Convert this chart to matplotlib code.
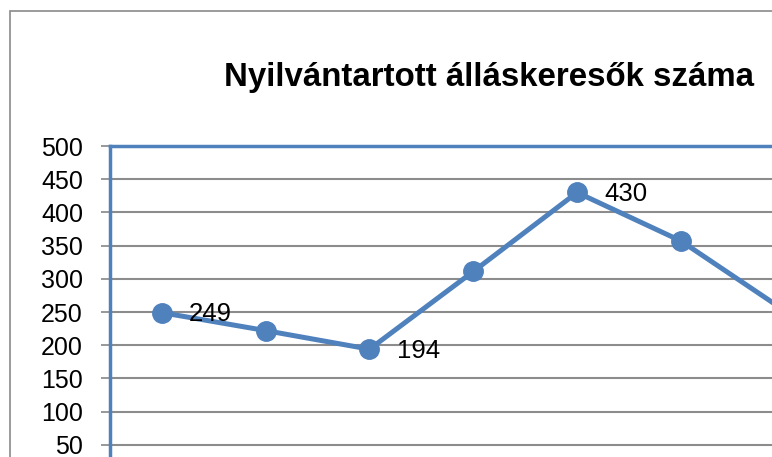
import matplotlib
matplotlib.use("Agg")
import matplotlib.pyplot as plt
from matplotlib.patches import Rectangle

plt.rcParams['font.family'] = ['Liberation Sans', 'DejaVu Sans']

# havi adatok (a kép jobb szélén túl levágva)
months = ['1', '2', '3', '4', '5', '6', '7']
values = [249, 222, 194, 311, 430, 357, 252]
labeled = [0, 2, 4]
yticks = [50, 100, 150, 200, 250, 300, 350, 400, 450, 500]
title = 'Nyilvántartott álláskeresők száma'

W, H = 772, 457
fig = plt.figure(figsize=(W / 100, H / 100), dpi=100)

# plot area in pixels: left 110, top 146, y=0 at 478, right past the edge
left, top, bottom, right = 110, 146, 478, 800
ax = fig.add_axes([left / W, 1 - bottom / H, (right - left) / W, (bottom - top) / H])

x = list(range(len(values)))
ax.plot(x, values, color='#4F81BD', lw=3.6, marker='o', ms=14,
        solid_capstyle='round', zorder=3, clip_on=False)
for i in labeled:
    ax.annotate(str(values[i]), (x[i], values[i]), xytext=(19.5, -1),
                textcoords='offset points', ha='left', va='center', fontsize=18.5)

step = 103.8
ax.set_xlim(-0.5, -0.5 + (right - left) / step)
ax.set_ylim(0, 500)
ax.set_yticks(yticks)
ax.set_yticklabels([str(v) for v in yticks])
ax.set_xticks([])
ax.tick_params(axis='y', labelsize=18, length=6.5, width=1.2, color='#868686', pad=13)
ax.yaxis.grid(True, color='#8C8C8C', lw=1.5)
ax.set_axisbelow(True)
for s in ax.spines.values():
    s.set_color('#4F81BD')
    s.set_linewidth(2.5)

fig.text(489 / W, 1 - 86 / H, title, ha='center', va='baseline',
         fontsize=23.8, fontweight='bold')

fig.patches.append(Rectangle((10 / W, -0.1), 2, 1 - 11 / H + 0.1,
                             transform=fig.transFigure, fill=False,
                             edgecolor='#8A8A8A', lw=1.2))

fig.savefig('out.png', dpi=100)
